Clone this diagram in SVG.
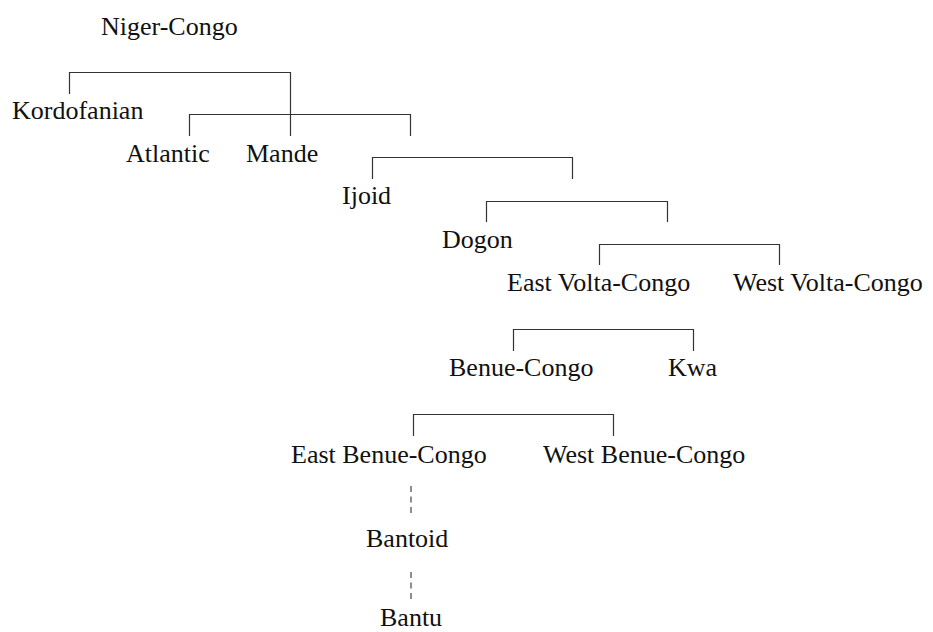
<svg xmlns="http://www.w3.org/2000/svg" width="933" height="632" viewBox="0 0 933 632">
<style>
text{font-family:"Liberation Serif","Times New Roman",serif;font-size:26px;fill:#111}
.ln{stroke:#333;stroke-width:1.2;fill:none}
.dash{stroke:#444;stroke-width:1.2;fill:none;stroke-dasharray:6 4.5}
</style>
<rect width="933" height="632" fill="#fff"/>
<g id="connectors">
<path class="ln" d="M69.5,94 V72.5 H290.5 V136"/>
<path class="ln" d="M189.5,136 V114.5 H410.5 V136"/>
<path class="ln" d="M372.5,179 V157.5 H572.5 V179"/>
<path class="ln" d="M486.5,222 V201.5 H667.5 V222"/>
<path class="ln" d="M599.5,265 V244.5 H779.5 V265"/>
<path class="ln" d="M513.5,351 V329.5 H693.5 V351"/>
<path class="ln" d="M413.5,436 V414.5 H613.5 V436"/>
<line class="dash" x1="411" y1="486" x2="411" y2="513"/>
<line class="dash" x1="411" y1="572" x2="411" y2="599"/>
</g>
<g id="niger-congo"><text x="101" y="35">Niger-Congo</text></g>
<g id="kordofanian"><text x="12" y="119">Kordofanian</text></g>
<g id="atlantic"><text x="126" y="162">Atlantic</text></g>
<g id="mande"><text x="246" y="162">Mande</text></g>
<g id="ijoid"><text x="342" y="204">Ijoid</text></g>
<g id="dogon"><text x="442" y="248">Dogon</text></g>
<g id="east-volta-congo"><text x="507" y="291">East Volta-Congo</text></g>
<g id="west-volta-congo"><text x="733" y="291">West Volta-Congo</text></g>
<g id="benue-congo"><text x="449" y="376">Benue-Congo</text></g>
<g id="kwa"><text x="668" y="376">Kwa</text></g>
<g id="east-benue-congo"><text x="291" y="463">East Benue-Congo</text></g>
<g id="west-benue-congo"><text x="543" y="463">West Benue-Congo</text></g>
<g id="bantoid"><text x="366" y="547">Bantoid</text></g>
<g id="bantu"><text x="380" y="626">Bantu</text></g>
</svg>
